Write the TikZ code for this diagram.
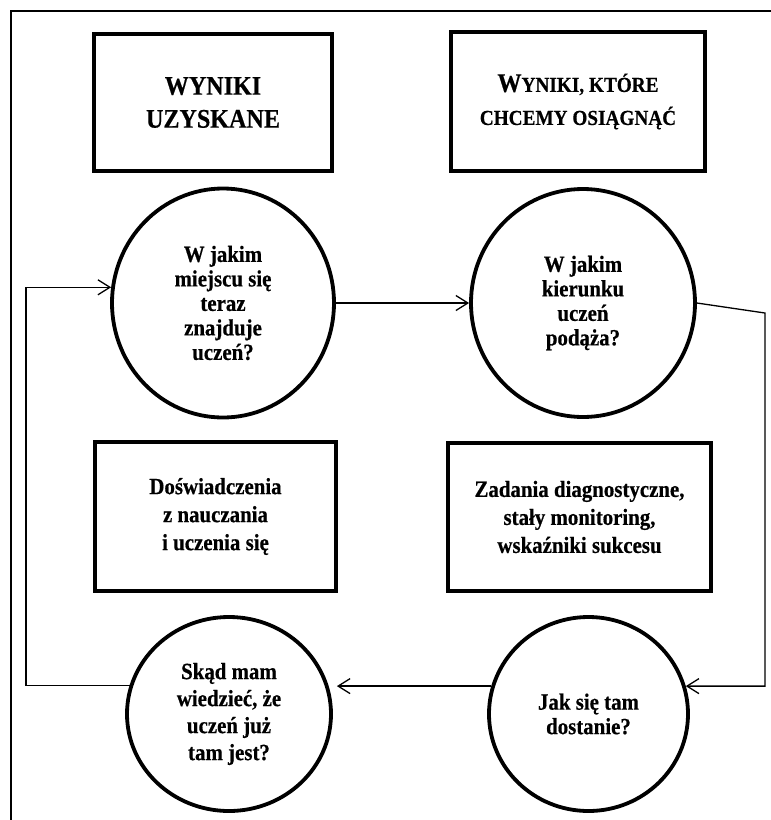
\documentclass[tikz,border=0pt]{standalone}
\usepackage{fontspec}
\setmainfont[FakeStretch=0.9,BoldFeatures={FakeBold=0.5}]{Liberation Serif}
\usetikzlibrary{shapes.geometric,arrows.meta}

\begin{document}
\begin{tikzpicture}[x=1pt,y=-1pt,
    box/.style={draw,rectangle,line width=3.8pt,align=center,font=\bfseries\fontsize{23.2}{28}\selectfont},
    ring/.style={draw,ellipse,line width=3.8pt,inner sep=0pt,align=center,font=\bfseries\fontsize{23.2}{24.5}\selectfont},
    link/.style={line width=1.3pt,-{Straight Barb[length=12pt,width=15pt]}}]
    \useasboundingbox (0,0) rectangle (771,820);
    \draw[line width=2.3pt] (11,820) -- (11,11) -- (771,11);

    \node[box,minimum width=238pt,minimum height=137pt,font=\bfseries\fontsize{26.8}{33}\selectfont] (got) at (213,102.5) {WYNIKI\\UZYSKANE};
    \node[box,minimum width=254pt,minimum height=139pt,font=\bfseries\fontsize{21.4}{33}\selectfont] (want) at (578,101.5) {{\fontsize{26.8}{33}\selectfont W}YNIKI, KTÓRE\\CHCEMY OSIĄGNĄĆ};

    \node[ring,minimum width=222pt,minimum height=229pt] (now) at (223,303) {W jakim\\miejscu się\\teraz\\znajduje\\uczeń?};
    \node[ring,minimum width=224pt,minimum height=228pt] (where) at (583,303) {W jakim\\kierunku\\uczeń\\podąża?};

    \node[box,minimum width=241pt,minimum height=149pt] (past) at (215.5,516.5) {Doświadczenia\\z nauczania\\i uczenia się};
    \node[box,minimum width=263pt,minimum height=148pt] (check) at (579.5,517) {Zadania diagnostyczne,\\stały monitoring,\\wskaźniki sukcesu};

    \node[ring,minimum width=204pt,minimum height=194pt,font=\bfseries\fontsize{23.2}{27}\selectfont] (proof) at (229,714) {Skąd mam\\wiedzieć, że\\uczeń już\\tam jest?};
    \node[ring,minimum width=199pt,minimum height=194pt] (how) at (588.5,714) {Jak się tam\\dostanie?};

    \draw[link] (now) -- (where);
    \draw[link] (where.east) -- ++(68,10) |- (how.16);
    \draw[link,shorten >=4pt] (how.164) -- (how.164 -| proof.east);
    \draw[link] (proof.164) -| ([xshift=-85pt]now.172) -- (now.172);
\end{tikzpicture}
\end{document}
